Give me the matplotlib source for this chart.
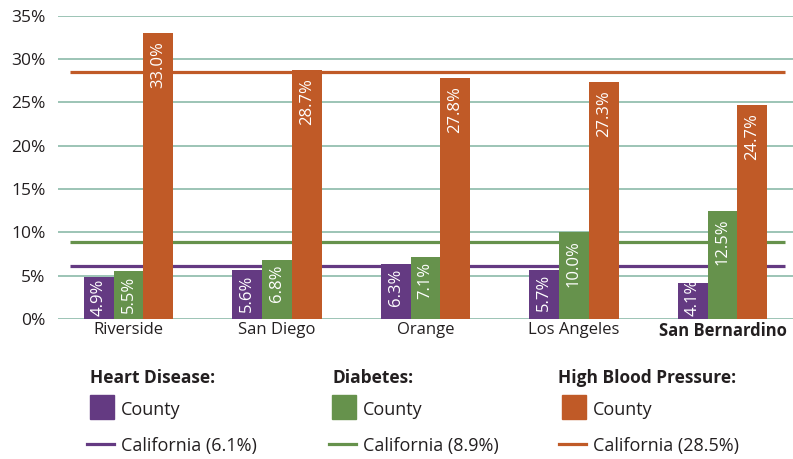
#import required libraries
import matplotlib
matplotlib.use("Agg")
import matplotlib.pyplot as plt
from matplotlib.patches import Rectangle
from matplotlib.lines import Line2D
from matplotlib import transforms
import numpy as np

# chart data
counties = ["Riverside", "San Diego", "Orange", "Los Angeles", "San Bernardino"]
heart_disease = [4.9, 5.6, 6.3, 5.7, 4.1]
diabetes = [5.5, 6.8, 7.1, 10.0, 12.5]
high_blood_pressure = [33.0, 28.7, 27.8, 27.3, 24.7]
california = {"Heart Disease": 6.1, "Diabetes": 8.9, "High Blood Pressure": 28.5}
y_ticks = [0, 5, 10, 15, 20, 25, 30, 35]

purple = "#643a82"
green = "#66924c"
orange = "#c05a27"
grid_col = "#9cc4b6"
text_col = "#231f20"

plt.rcParams['font.family'] = ['Open Sans', 'DejaVu Sans']

fig = plt.figure(figsize=(7.93, 4.59), dpi=100)
ax = fig.add_axes([58 / 793, 1 - 319 / 459, 735 / 793, (319 - 15.5) / 459])

x = np.arange(len(counties))
w = 0.2

# gridlines behind everything
for t in y_ticks:
    ax.axhline(t, color=grid_col, lw=1.4, zorder=0)

# state reference lines, drawn behind the bars
ax.hlines(california["Heart Disease"], -0.395, 4.42, color=purple, lw=2.3, zorder=1)
ax.hlines(california["Diabetes"], -0.395, 4.42, color=green, lw=2.3, zorder=1)
ax.hlines(california["High Blood Pressure"], -0.395, 4.42, color=orange, lw=2.3, zorder=1)

series = [(heart_disease, purple, -w), (diabetes, green, 0), (high_blood_pressure, orange, w)]
for vals, col, off in series:
    ax.bar(x + off, vals, width=w, color=col, zorder=2)
    for xi, v in zip(x + off, vals):
        if v < 5:
            # short bars: label sits on the baseline
            tr = transforms.offset_copy(ax.transData, fig=fig, x=0, y=3, units='dots')
            ax.text(xi, 0, f"{v:.1f}%", rotation=90, ha='center', va='bottom',
                    color='white', fontsize=12, transform=tr, zorder=3)
        else:
            gap = -4 if v < 8 else -8
            tr = transforms.offset_copy(ax.transData, fig=fig, x=0, y=gap, units='dots')
            ax.text(xi, v, f"{v:.1f}%", rotation=90, ha='center', va='top',
                    color='white', fontsize=12, transform=tr, zorder=3)

ax.set_xlim(-0.475, 4.475)
ax.set_ylim(0, 35)
ax.set_yticks(y_ticks)
ax.set_yticklabels([f"{t}%" for t in y_ticks])
ax.set_xticks(x)
ax.set_xticklabels(counties)
ax.tick_params(axis='y', length=0, pad=9, labelsize=12.5, labelcolor=text_col)
ax.tick_params(axis='x', length=0, pad=2, labelsize=12, labelcolor=text_col)
ax.get_xticklabels()[-1].set_fontweight('bold')
for s in ax.spines.values():
    s.set_visible(False)

# legend built by hand in figure pixels
W, H = 793, 459
legend_cols = [
    ("Heart Disease:", purple, 90, 90, 121, 87),
    ("Diabetes:", green, 333, 332, 363, 329),
    ("High Blood Pressure:", orange, 558, 562, 593, 559),
]
state_vals = [california["Heart Disease"], california["Diabetes"], california["High Blood Pressure"]]
for (title, col, hx, sx, tx, lx), sv in zip(legend_cols, state_vals):
    fig.text(hx / W, 1 - 383 / H, title, fontsize=12.5, fontweight='bold',
             color=text_col, va='baseline')
    fig.patches.append(Rectangle((sx / W, 1 - 419 / H), 24 / W, 24 / H,
                                 transform=fig.transFigure, color=col))
    fig.text(tx / W, 1 - 415 / H, "County", fontsize=13, color=text_col, va='baseline')
    fig.lines.append(Line2D([lx / W, (lx + 27) / W], [1 - 444 / H, 1 - 444 / H],
                            transform=fig.transFigure, color=col, lw=2.3))
    fig.text(tx / W, 1 - 451.5 / H, f"California ({sv}%)", fontsize=13,
             color=text_col, va='baseline')

fig.savefig("out.png", dpi=100)
